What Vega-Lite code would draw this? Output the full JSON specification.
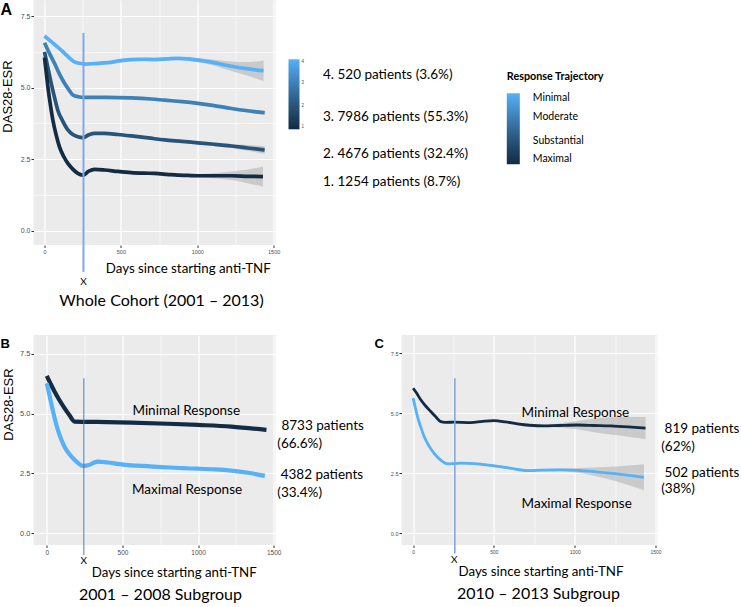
{
 "$schema": "https://vega.github.io/schema/vega-lite/v6.json",
 "background": "white",
 "padding": {"left": 0.5, "top": 0, "right": 0, "bottom": 0},
 "bounds": "flush",
 "columns": 2,
 "spacing": {"row": 90, "column": 126},
 "config": {
  "view": {"stroke": null},
  "axis": {"domain": false, "tickColor": "#333333", "tickSize": 2.5, "labelFont": "Liberation Sans", "labelColor": "#4D4D4D", "gridColor": "#FFFFFF", "titleColor": "#000000", "titleFontWeight": "normal", "labelFlush": false, "labelOverlap": false},
  "text": {"font": "Lato", "color": "#000000"}
 },
 "datasets": {
  "A": [
   {"traj":4,"day":0,"val":6.80,"lo":6.72,"hi":6.88},
   {"traj":4,"day":50,"val":6.58,"lo":6.52,"hi":6.64},
   {"traj":4,"day":109,"val":6.31,"lo":6.26,"hi":6.36},
   {"traj":4,"day":160,"val":6.05,"lo":6.00,"hi":6.10},
   {"traj":4,"day":196,"val":5.90,"lo":5.85,"hi":5.95},
   {"traj":4,"day":240,"val":5.84,"lo":5.79,"hi":5.89},
   {"traj":4,"day":262,"val":5.82,"lo":5.77,"hi":5.87},
   {"traj":4,"day":330,"val":5.84,"lo":5.79,"hi":5.89},
   {"traj":4,"day":415,"val":5.87,"lo":5.82,"hi":5.92},
   {"traj":4,"day":500,"val":5.94,"lo":5.89,"hi":5.99},
   {"traj":4,"day":568,"val":5.98,"lo":5.93,"hi":6.03},
   {"traj":4,"day":650,"val":5.99,"lo":5.94,"hi":6.04},
   {"traj":4,"day":720,"val":5.98,"lo":5.93,"hi":6.03},
   {"traj":4,"day":800,"val":6.00,"lo":5.95,"hi":6.05},
   {"traj":4,"day":873,"val":6.02,"lo":5.97,"hi":6.07},
   {"traj":4,"day":940,"val":6.00,"lo":5.94,"hi":6.06},
   {"traj":4,"day":1004,"val":5.96,"lo":5.89,"hi":6.03},
   {"traj":4,"day":1100,"val":5.88,"lo":5.78,"hi":5.98},
   {"traj":4,"day":1179,"val":5.79,"lo":5.65,"hi":5.93},
   {"traj":4,"day":1250,"val":5.72,"lo":5.54,"hi":5.90},
   {"traj":4,"day":1310,"val":5.67,"lo":5.45,"hi":5.89},
   {"traj":4,"day":1380,"val":5.62,"lo":5.33,"hi":5.91},
   {"traj":4,"day":1434,"val":5.59,"lo":5.23,"hi":5.95},
   {"traj":3,"day":0,"val":6.57,"lo":6.53,"hi":6.61},
   {"traj":3,"day":30,"val":6.22,"lo":6.18,"hi":6.26},
   {"traj":3,"day":66,"val":5.84,"lo":5.80,"hi":5.88},
   {"traj":3,"day":100,"val":5.45,"lo":5.41,"hi":5.49},
   {"traj":3,"day":131,"val":5.15,"lo":5.11,"hi":5.19},
   {"traj":3,"day":160,"val":4.92,"lo":4.88,"hi":4.96},
   {"traj":3,"day":186,"val":4.74,"lo":4.70,"hi":4.78},
   {"traj":3,"day":220,"val":4.68,"lo":4.64,"hi":4.72},
   {"traj":3,"day":262,"val":4.66,"lo":4.62,"hi":4.70},
   {"traj":3,"day":400,"val":4.66,"lo":4.62,"hi":4.70},
   {"traj":3,"day":568,"val":4.64,"lo":4.60,"hi":4.68},
   {"traj":3,"day":700,"val":4.60,"lo":4.56,"hi":4.64},
   {"traj":3,"day":786,"val":4.56,"lo":4.52,"hi":4.60},
   {"traj":3,"day":900,"val":4.51,"lo":4.47,"hi":4.55},
   {"traj":3,"day":1004,"val":4.45,"lo":4.41,"hi":4.49},
   {"traj":3,"day":1100,"val":4.38,"lo":4.34,"hi":4.42},
   {"traj":3,"day":1223,"val":4.27,"lo":4.22,"hi":4.32},
   {"traj":3,"day":1330,"val":4.19,"lo":4.13,"hi":4.25},
   {"traj":3,"day":1441,"val":4.12,"lo":4.04,"hi":4.20},
   {"traj":2,"day":0,"val":6.25,"lo":6.21,"hi":6.29},
   {"traj":2,"day":22,"val":5.70,"lo":5.66,"hi":5.74},
   {"traj":2,"day":44,"val":5.15,"lo":5.11,"hi":5.19},
   {"traj":2,"day":66,"val":4.65,"lo":4.61,"hi":4.69},
   {"traj":2,"day":87,"val":4.21,"lo":4.17,"hi":4.25},
   {"traj":2,"day":120,"val":3.82,"lo":3.78,"hi":3.86},
   {"traj":2,"day":153,"val":3.52,"lo":3.48,"hi":3.56},
   {"traj":2,"day":185,"val":3.36,"lo":3.32,"hi":3.40},
   {"traj":2,"day":218,"val":3.28,"lo":3.24,"hi":3.32},
   {"traj":2,"day":251,"val":3.25,"lo":3.21,"hi":3.29},
   {"traj":2,"day":290,"val":3.35,"lo":3.31,"hi":3.39},
   {"traj":2,"day":328,"val":3.40,"lo":3.36,"hi":3.44},
   {"traj":2,"day":393,"val":3.40,"lo":3.36,"hi":3.44},
   {"traj":2,"day":480,"val":3.36,"lo":3.32,"hi":3.40},
   {"traj":2,"day":568,"val":3.31,"lo":3.27,"hi":3.35},
   {"traj":2,"day":680,"val":3.24,"lo":3.20,"hi":3.28},
   {"traj":2,"day":786,"val":3.17,"lo":3.13,"hi":3.21},
   {"traj":2,"day":900,"val":3.12,"lo":3.08,"hi":3.16},
   {"traj":2,"day":1004,"val":3.07,"lo":3.03,"hi":3.11},
   {"traj":2,"day":1110,"val":3.02,"lo":2.97,"hi":3.07},
   {"traj":2,"day":1223,"val":2.96,"lo":2.89,"hi":3.03},
   {"traj":2,"day":1330,"val":2.89,"lo":2.79,"hi":2.99},
   {"traj":2,"day":1441,"val":2.82,"lo":2.69,"hi":2.95},
   {"traj":1,"day":0,"val":6.05,"lo":6.00,"hi":6.10},
   {"traj":1,"day":11,"val":5.55,"lo":5.50,"hi":5.60},
   {"traj":1,"day":22,"val":5.03,"lo":4.98,"hi":5.08},
   {"traj":1,"day":38,"val":4.42,"lo":4.37,"hi":4.47},
   {"traj":1,"day":55,"val":3.86,"lo":3.81,"hi":3.91},
   {"traj":1,"day":76,"val":3.35,"lo":3.30,"hi":3.40},
   {"traj":1,"day":98,"val":2.93,"lo":2.88,"hi":2.98},
   {"traj":1,"day":125,"val":2.60,"lo":2.55,"hi":2.65},
   {"traj":1,"day":153,"val":2.35,"lo":2.30,"hi":2.40},
   {"traj":1,"day":185,"val":2.15,"lo":2.10,"hi":2.20},
   {"traj":1,"day":218,"val":2.00,"lo":1.95,"hi":2.05},
   {"traj":1,"day":251,"val":1.94,"lo":1.89,"hi":1.99},
   {"traj":1,"day":290,"val":2.08,"lo":2.03,"hi":2.13},
   {"traj":1,"day":328,"val":2.14,"lo":2.09,"hi":2.19},
   {"traj":1,"day":393,"val":2.12,"lo":2.07,"hi":2.17},
   {"traj":1,"day":480,"val":2.07,"lo":2.02,"hi":2.12},
   {"traj":1,"day":568,"val":2.03,"lo":1.98,"hi":2.08},
   {"traj":1,"day":650,"val":2.01,"lo":1.96,"hi":2.06},
   {"traj":1,"day":720,"val":2.00,"lo":1.95,"hi":2.05},
   {"traj":1,"day":800,"val":1.97,"lo":1.92,"hi":2.02},
   {"traj":1,"day":873,"val":1.94,"lo":1.89,"hi":1.99},
   {"traj":1,"day":940,"val":1.93,"lo":1.88,"hi":1.98},
   {"traj":1,"day":1004,"val":1.92,"lo":1.86,"hi":1.98},
   {"traj":1,"day":1100,"val":1.92,"lo":1.83,"hi":2.01},
   {"traj":1,"day":1223,"val":1.92,"lo":1.77,"hi":2.07},
   {"traj":1,"day":1330,"val":1.90,"lo":1.66,"hi":2.14},
   {"traj":1,"day":1430,"val":1.89,"lo":1.54,"hi":2.24}
  ],
  "B": [
   {"resp":"Minimal","day":0,"val":6.58,"lo":6.55,"hi":6.61},
   {"resp":"Minimal","day":25,"val":6.25,"lo":6.22,"hi":6.28},
   {"resp":"Minimal","day":51,"val":5.93,"lo":5.90,"hi":5.96},
   {"resp":"Minimal","day":85,"val":5.55,"lo":5.52,"hi":5.58},
   {"resp":"Minimal","day":117,"val":5.23,"lo":5.20,"hi":5.26},
   {"resp":"Minimal","day":150,"val":4.93,"lo":4.90,"hi":4.96},
   {"resp":"Minimal","day":183,"val":4.67,"lo":4.64,"hi":4.70},
   {"resp":"Minimal","day":249,"val":4.66,"lo":4.63,"hi":4.69},
   {"resp":"Minimal","day":400,"val":4.65,"lo":4.62,"hi":4.68},
   {"resp":"Minimal","day":558,"val":4.63,"lo":4.60,"hi":4.66},
   {"resp":"Minimal","day":800,"val":4.58,"lo":4.55,"hi":4.61},
   {"resp":"Minimal","day":1000,"val":4.53,"lo":4.50,"hi":4.56},
   {"resp":"Minimal","day":1220,"val":4.46,"lo":4.42,"hi":4.50},
   {"resp":"Minimal","day":1452,"val":4.32,"lo":4.26,"hi":4.38},
   {"resp":"Maximal","day":0,"val":6.27,"lo":6.24,"hi":6.30},
   {"resp":"Maximal","day":15,"val":5.85,"lo":5.82,"hi":5.88},
   {"resp":"Maximal","day":29,"val":5.44,"lo":5.41,"hi":5.47},
   {"resp":"Maximal","day":50,"val":4.86,"lo":4.83,"hi":4.89},
   {"resp":"Maximal","day":73,"val":4.32,"lo":4.29,"hi":4.35},
   {"resp":"Maximal","day":95,"val":3.93,"lo":3.90,"hi":3.96},
   {"resp":"Maximal","day":117,"val":3.62,"lo":3.59,"hi":3.65},
   {"resp":"Maximal","day":150,"val":3.30,"lo":3.27,"hi":3.33},
   {"resp":"Maximal","day":183,"val":3.07,"lo":3.04,"hi":3.10},
   {"resp":"Maximal","day":210,"val":2.92,"lo":2.89,"hi":2.95},
   {"resp":"Maximal","day":238,"val":2.82,"lo":2.79,"hi":2.85},
   {"resp":"Maximal","day":260,"val":2.83,"lo":2.80,"hi":2.86},
   {"resp":"Maximal","day":282,"val":2.86,"lo":2.83,"hi":2.89},
   {"resp":"Maximal","day":310,"val":2.95,"lo":2.92,"hi":2.98},
   {"resp":"Maximal","day":337,"val":3.00,"lo":2.97,"hi":3.03},
   {"resp":"Maximal","day":370,"val":2.98,"lo":2.95,"hi":3.01},
   {"resp":"Maximal","day":404,"val":2.96,"lo":2.93,"hi":2.99},
   {"resp":"Maximal","day":480,"val":2.89,"lo":2.86,"hi":2.92},
   {"resp":"Maximal","day":558,"val":2.84,"lo":2.81,"hi":2.87},
   {"resp":"Maximal","day":680,"val":2.80,"lo":2.77,"hi":2.83},
   {"resp":"Maximal","day":779,"val":2.76,"lo":2.73,"hi":2.79},
   {"resp":"Maximal","day":900,"val":2.72,"lo":2.69,"hi":2.75},
   {"resp":"Maximal","day":1000,"val":2.70,"lo":2.67,"hi":2.73},
   {"resp":"Maximal","day":1110,"val":2.67,"lo":2.64,"hi":2.70},
   {"resp":"Maximal","day":1220,"val":2.62,"lo":2.58,"hi":2.66},
   {"resp":"Maximal","day":1330,"val":2.53,"lo":2.47,"hi":2.59},
   {"resp":"Maximal","day":1441,"val":2.40,"lo":2.31,"hi":2.49}
  ],
  "C": [
   {"resp":"Minimal","day":0,"val":6.04,"lo":5.99,"hi":6.09},
   {"resp":"Minimal","day":20,"val":5.85,"lo":5.80,"hi":5.90},
   {"resp":"Minimal","day":47,"val":5.56,"lo":5.51,"hi":5.61},
   {"resp":"Minimal","day":80,"val":5.28,"lo":5.23,"hi":5.33},
   {"resp":"Minimal","day":109,"val":5.07,"lo":5.02,"hi":5.12},
   {"resp":"Minimal","day":140,"val":4.85,"lo":4.80,"hi":4.90},
   {"resp":"Minimal","day":171,"val":4.65,"lo":4.60,"hi":4.70},
   {"resp":"Minimal","day":200,"val":4.62,"lo":4.57,"hi":4.67},
   {"resp":"Minimal","day":253,"val":4.63,"lo":4.58,"hi":4.68},
   {"resp":"Minimal","day":356,"val":4.61,"lo":4.56,"hi":4.66},
   {"resp":"Minimal","day":430,"val":4.66,"lo":4.61,"hi":4.71},
   {"resp":"Minimal","day":500,"val":4.69,"lo":4.64,"hi":4.74},
   {"resp":"Minimal","day":570,"val":4.64,"lo":4.59,"hi":4.69},
   {"resp":"Minimal","day":645,"val":4.56,"lo":4.51,"hi":4.61},
   {"resp":"Minimal","day":720,"val":4.50,"lo":4.45,"hi":4.55},
   {"resp":"Minimal","day":810,"val":4.47,"lo":4.42,"hi":4.52},
   {"resp":"Minimal","day":900,"val":4.49,"lo":4.41,"hi":4.57},
   {"resp":"Minimal","day":1016,"val":4.51,"lo":4.33,"hi":4.69},
   {"resp":"Minimal","day":1120,"val":4.49,"lo":4.21,"hi":4.77},
   {"resp":"Minimal","day":1222,"val":4.47,"lo":4.11,"hi":4.83},
   {"resp":"Minimal","day":1330,"val":4.43,"lo":4.02,"hi":4.84},
   {"resp":"Minimal","day":1438,"val":4.38,"lo":3.92,"hi":4.84},
   {"resp":"Maximal","day":0,"val":5.63,"lo":5.58,"hi":5.68},
   {"resp":"Maximal","day":13,"val":5.25,"lo":5.20,"hi":5.30},
   {"resp":"Maximal","day":27,"val":4.86,"lo":4.81,"hi":4.91},
   {"resp":"Maximal","day":47,"val":4.43,"lo":4.38,"hi":4.48},
   {"resp":"Maximal","day":68,"val":4.03,"lo":3.98,"hi":4.08},
   {"resp":"Maximal","day":100,"val":3.62,"lo":3.57,"hi":3.67},
   {"resp":"Maximal","day":130,"val":3.33,"lo":3.28,"hi":3.38},
   {"resp":"Maximal","day":170,"val":3.05,"lo":3.00,"hi":3.10},
   {"resp":"Maximal","day":212,"val":2.89,"lo":2.84,"hi":2.94},
   {"resp":"Maximal","day":250,"val":2.90,"lo":2.85,"hi":2.95},
   {"resp":"Maximal","day":295,"val":2.92,"lo":2.87,"hi":2.97},
   {"resp":"Maximal","day":350,"val":2.91,"lo":2.86,"hi":2.96},
   {"resp":"Maximal","day":398,"val":2.89,"lo":2.84,"hi":2.94},
   {"resp":"Maximal","day":500,"val":2.81,"lo":2.76,"hi":2.86},
   {"resp":"Maximal","day":600,"val":2.71,"lo":2.66,"hi":2.76},
   {"resp":"Maximal","day":707,"val":2.61,"lo":2.56,"hi":2.66},
   {"resp":"Maximal","day":800,"val":2.63,"lo":2.58,"hi":2.68},
   {"resp":"Maximal","day":913,"val":2.64,"lo":2.58,"hi":2.70},
   {"resp":"Maximal","day":1016,"val":2.62,"lo":2.52,"hi":2.72},
   {"resp":"Maximal","day":1119,"val":2.57,"lo":2.40,"hi":2.74},
   {"resp":"Maximal","day":1250,"val":2.48,"lo":2.18,"hi":2.78},
   {"resp":"Maximal","day":1428,"val":2.33,"lo":1.79,"hi":2.87}
  ],
  "Arule": [{"day":255,"top":6.91,"bottom":-1.44}],
  "Brule": [{"day":245,"top":6.48,"bottom":-0.91}],
  "Crule": [{"day":258,"top":6.46,"bottom":-0.84}],
  "Ax": [{"label":"X","day":255,"val":-1.91}],
  "Bx": [{"label":"X","day":245,"val":-1.27}],
  "Cx": [{"label":"X","day":254,"val":-1.26}],
  "Aletter": [{"label":"A","day":-288,"val":7.54}],
  "Bletter": [{"label":"B","day":-306,"val":7.75}],
  "Cletter": [{"label":"C","day":-239,"val":7.72}],
  "Atext": [
   {"label":"4. 520 patients (3.6%)","day":1823,"val":5.29},
   {"label":"3. 7986 patients (55.3%)","day":1823,"val":3.83},
   {"label":"2. 4676 patients (32.4%)","day":1823,"val":2.53},
   {"label":"1. 1254 patients (8.7%)","day":1823,"val":1.57}
  ],
  "Legend": [{"traj":1},{"traj":2},{"traj":3},{"traj":4}],
  "Bcenter": [
   {"label":"Minimal Response","day":922,"val":4.95},
   {"label":"Maximal Response","day":927,"val":1.645}
  ],
  "Bright": [
   {"label":"8733 patients","day":1551,"val":4.32},
   {"label":"(66.6%)","day":1524,"val":3.58},
   {"label":"4382 patients","day":1546,"val":2.26},
   {"label":"(33.4%)","day":1524,"val":1.53}
  ],
  "Ccenter": [
   {"label":"Minimal Response","day":1004,"val":4.83},
   {"label":"Maximal Response","day":1012,"val":1.07}
  ],
  "Cright": [
   {"label":"819 patients","day":1556,"val":4.17},
   {"label":"(62%)","day":1535,"val":3.44},
   {"label":"502 patients","day":1556,"val":2.36},
   {"label":"(38%)","day":1535,"val":1.67}
  ]
 },
 "concat": [
  {
   "width": 242, "height": 245,
   "view": {"fill": "#EBEBEB", "stroke": null},
   "title": {"text": "Whole Cohort (2001 – 2013)", "orient": "bottom", "anchor": "middle", "frame": "group", "font": "Lato", "fontSize": 16, "fontWeight": "normal", "color": "#000000", "offset": 6, "dx": 7},
   "layer": [
    {
     "data": {"name": "A"},
     "mark": {"type": "area", "color": "#999999", "opacity": 0.4, "interpolate": "monotone"},
     "encoding": {
      "x": {"field": "day", "type": "quantitative", "scale": {"domain": [-72, 1512], "nice": false, "zero": false},
       "axis": {"values": [0,250,500,750,1000,1250,1500], "format": "d", "labelExpr": "datum.value % 500 === 0 ? datum.label : ''",
        "tickOpacity": {"condition": {"test": "datum.value % 500 === 0", "value": 1}, "value": 0},
        "gridWidth": {"condition": {"test": "datum.value % 500 === 0", "value": 1.2}, "value": 0.6},
        "labelFontSize": 5.5, "labelPadding": 1.5,
        "title": "Days since starting anti-TNF", "titleFont": "Lato", "titleFontSize": 13.3, "titleX": 154.3, "titleY": 27, "titleAlign": "center", "titleBaseline": "alphabetic"}},
      "y": {"field": "lo", "type": "quantitative", "scale": {"domain": [-0.5, 8.06], "nice": false, "zero": false},
       "axis": {"values": [0,1.25,2.5,3.75,5,6.25,7.5], "format": ".1f", "labelExpr": "datum.value % 2.5 === 0 ? datum.label : ''",
        "tickOpacity": {"condition": {"test": "datum.value % 2.5 === 0", "value": 1}, "value": 0},
        "gridWidth": {"condition": {"test": "datum.value % 2.5 === 0", "value": 1.2}, "value": 0.6},
        "labelFontSize": 7, "labelPadding": 1,
        "title": "DAS28-ESR", "titleFont": "Liberation Sans", "titleFontSize": 13, "titleX": -22.4, "titleY": 96, "titleAlign": "center", "titleBaseline": "alphabetic", "titleAngle": 270}},
      "y2": {"field": "hi"},
      "detail": {"field": "traj"}
     }
    },
    {
     "data": {"name": "A"},
     "mark": {"type": "line", "strokeWidth": 3.7, "interpolate": "monotone"},
     "encoding": {
      "x": {"field": "day", "type": "quantitative"},
      "y": {"field": "val", "type": "quantitative"},
      "detail": {"field": "traj"},
      "stroke": {"field": "traj", "type": "quantitative", "scale": {"type": "linear", "domain": [1, 4], "range": ["#132B43", "#56B1F7"], "interpolate": "lab"},
       "legend": {"orient": "none", "legendX": 255, "legendY": 59.3, "direction": "vertical", "title": null, "gradientLength": 70, "gradientThickness": 11, "gradientStrokeWidth": 0, "values": [1,2,3,4], "format": "d", "labelFont": "Liberation Sans", "labelFontSize": 4.5, "labelColor": "#4D4D4D", "labelOffset": 2, "padding": 0}}
     }
    },
    {
     "data": {"name": "Legend"},
     "mark": {"type": "point", "filled": true, "opacity": 0, "size": 0},
     "encoding": {
      "fill": {"field": "traj", "type": "quantitative", "scale": {"type": "linear", "range": ["#132B43", "#56B1F7"], "interpolate": "lab", "nice": false, "zero": false},
       "legend": {"orient": "none", "legendX": 473.3, "legendY": 71, "direction": "vertical", "title": "Response Trajectory", "titleFont": "Lato", "titleFontSize": 10.8, "titleFontWeight": "bold", "titleColor": "#000000", "titlePadding": 11.5, "gradientLength": 71, "gradientThickness": 13, "gradientStrokeWidth": 0, "values": [1,2,3,4], "labelExpr": "datum.value == 4 ? 'Minimal' : datum.value == 3 ? 'Moderate' : datum.value == 2 ? 'Substantial' : 'Maximal'", "labelFont": "Lato", "labelFontSize": 10.5, "labelColor": "#000000", "labelOffset": 13, "padding": 0}}
     }
    },
    {
     "data": {"name": "Arule"},
     "mark": {"type": "rule", "color": "#82A7E2", "strokeWidth": 2, "clip": false},
     "encoding": {"x": {"field": "day", "type": "quantitative"}, "y": {"field": "top", "type": "quantitative"}, "y2": {"field": "bottom"}}
    },
    {
     "data": {"name": "Ax"},
     "mark": {"type": "text", "fontSize": 10, "align": "center", "baseline": "alphabetic", "clip": false},
     "encoding": {"x": {"field": "day", "type": "quantitative"}, "y": {"field": "val", "type": "quantitative"}, "text": {"field": "label"}}
    },
    {
     "data": {"name": "Aletter"},
     "mark": {"type": "text", "font": "Liberation Sans", "fontWeight": "bold", "fontSize": 16, "align": "left", "baseline": "alphabetic", "clip": false},
     "encoding": {"x": {"field": "day", "type": "quantitative"}, "y": {"field": "val", "type": "quantitative"}, "text": {"field": "label"}}
    },
    {
     "data": {"name": "Atext"},
     "mark": {"type": "text", "fontSize": 13.5, "align": "left", "baseline": "alphabetic", "clip": false},
     "encoding": {"x": {"field": "day", "type": "quantitative"}, "y": {"field": "val", "type": "quantitative"}, "text": {"field": "label"}}
    }
   ]
  },
  {
   "width": 1, "height": 1,
   "data": {"values": [{"a": 1}]},
   "mark": {"type": "point", "opacity": 0, "size": 0},
   "encoding": {}
  },
  {
   "width": 242, "height": 210,
   "view": {"fill": "#EBEBEB", "stroke": null},
   "title": {"text": "2001 – 2008 Subgroup", "orient": "bottom", "anchor": "middle", "frame": "group", "font": "Lato", "fontSize": 16, "fontWeight": "normal", "color": "#000000", "offset": 9, "dx": 6},
   "layer": [
    {
     "data": {"name": "B"},
     "mark": {"type": "area", "color": "#999999", "opacity": 0.4, "interpolate": "monotone"},
     "encoding": {
      "x": {"field": "day", "type": "quantitative", "scale": {"domain": [-88, 1512], "nice": false, "zero": false},
       "axis": {"values": [0,250,500,750,1000,1250,1500], "format": "d", "labelExpr": "datum.value % 500 === 0 ? datum.label : ''",
        "tickOpacity": {"condition": {"test": "datum.value % 500 === 0", "value": 1}, "value": 0},
        "gridWidth": {"condition": {"test": "datum.value % 500 === 0", "value": 1.2}, "value": 0.6},
        "labelFontSize": 6.5, "labelPadding": 1.5,
        "title": "Days since starting anti-TNF", "titleFont": "Lato", "titleFontSize": 13.3, "titleX": 140.3, "titleY": 31, "titleAlign": "center", "titleBaseline": "alphabetic"}},
      "y": {"field": "lo", "type": "quantitative", "scale": {"domain": [-0.49, 8.29], "nice": false, "zero": false},
       "axis": {"values": [0,1.25,2.5,3.75,5,6.25,7.5], "format": ".1f", "labelExpr": "datum.value % 2.5 === 0 ? datum.label : ''",
        "tickOpacity": {"condition": {"test": "datum.value % 2.5 === 0", "value": 1}, "value": 0},
        "gridWidth": {"condition": {"test": "datum.value % 2.5 === 0", "value": 1.2}, "value": 0.6},
        "labelFontSize": 7.5, "labelPadding": 1,
        "title": "DAS28-ESR", "titleFont": "Liberation Sans", "titleFontSize": 13, "titleX": -20.7, "titleY": 69, "titleAlign": "center", "titleBaseline": "alphabetic", "titleAngle": 270}},
      "y2": {"field": "hi"},
      "detail": {"field": "resp"}
     }
    },
    {
     "data": {"name": "B"},
     "mark": {"type": "line", "strokeWidth": 4.2, "interpolate": "monotone"},
     "encoding": {
      "x": {"field": "day", "type": "quantitative"},
      "y": {"field": "val", "type": "quantitative"},
      "stroke": {"field": "resp", "type": "nominal", "scale": {"domain": ["Minimal", "Maximal"], "range": ["#132B43", "#56B1F7"]}, "legend": null}
     }
    },
    {
     "data": {"name": "Brule"},
     "mark": {"type": "rule", "color": "#4E74C9", "strokeWidth": 1, "clip": false},
     "encoding": {"x": {"field": "day", "type": "quantitative"}, "y": {"field": "top", "type": "quantitative"}, "y2": {"field": "bottom"}}
    },
    {
     "data": {"name": "Bx"},
     "mark": {"type": "text", "fontSize": 10, "align": "center", "baseline": "alphabetic", "clip": false},
     "encoding": {"x": {"field": "day", "type": "quantitative"}, "y": {"field": "val", "type": "quantitative"}, "text": {"field": "label"}}
    },
    {
     "data": {"name": "Bletter"},
     "mark": {"type": "text", "font": "Liberation Sans", "fontWeight": "bold", "fontSize": 13, "align": "left", "baseline": "alphabetic", "clip": false},
     "encoding": {"x": {"field": "day", "type": "quantitative"}, "y": {"field": "val", "type": "quantitative"}, "text": {"field": "label"}}
    },
    {
     "data": {"name": "Bcenter"},
     "mark": {"type": "text", "fontSize": 13.5, "align": "center", "baseline": "alphabetic", "clip": false},
     "encoding": {"x": {"field": "day", "type": "quantitative"}, "y": {"field": "val", "type": "quantitative"}, "text": {"field": "label"}}
    },
    {
     "data": {"name": "Bright"},
     "mark": {"type": "text", "fontSize": 13.5, "align": "left", "baseline": "alphabetic", "clip": false},
     "encoding": {"x": {"field": "day", "type": "quantitative"}, "y": {"field": "val", "type": "quantitative"}, "text": {"field": "label"}}
    }
   ]
  },
  {
   "width": 256, "height": 210,
   "view": {"fill": "#EBEBEB", "stroke": null},
   "title": {"text": "2010 – 2013 Subgroup", "orient": "bottom", "anchor": "middle", "frame": "group", "font": "Lato", "fontSize": 16, "fontWeight": "normal", "color": "#000000", "offset": 9, "dx": 9},
   "layer": [
    {
     "data": {"name": "C"},
     "mark": {"type": "area", "color": "#999999", "opacity": 0.4, "interpolate": "monotone"},
     "encoding": {
      "x": {"field": "day", "type": "quantitative", "scale": {"domain": [-72, 1512], "nice": false, "zero": false},
       "axis": {"values": [0,250,500,750,1000,1250,1500], "format": "d", "labelExpr": "datum.value % 500 === 0 ? datum.label : ''",
        "tickOpacity": {"condition": {"test": "datum.value % 500 === 0", "value": 1}, "value": 0},
        "gridWidth": {"condition": {"test": "datum.value % 500 === 0", "value": 1.2}, "value": 0.6},
        "labelFontSize": 5, "labelPadding": 1.5,
        "title": "Days since starting anti-TNF", "titleFont": "Lato", "titleFontSize": 13.3, "titleX": 139, "titleY": 30, "titleAlign": "center", "titleBaseline": "alphabetic"}},
      "y": {"field": "lo", "type": "quantitative", "scale": {"domain": [-0.49, 8.26], "nice": false, "zero": false},
       "axis": {"values": [0,1.25,2.5,3.75,5,6.25,7.5], "format": ".1f", "labelExpr": "datum.value % 2.5 === 0 ? datum.label : ''",
        "tickOpacity": {"condition": {"test": "datum.value % 2.5 === 0", "value": 1}, "value": 0},
        "gridWidth": {"condition": {"test": "datum.value % 2.5 === 0", "value": 1.2}, "value": 0.6},
        "labelFontSize": 5.5, "labelPadding": 1, "title": null}},
      "y2": {"field": "hi"},
      "detail": {"field": "resp"}
     }
    },
    {
     "data": {"name": "C"},
     "mark": {"type": "line", "strokeWidth": 2.8, "interpolate": "monotone"},
     "encoding": {
      "x": {"field": "day", "type": "quantitative"},
      "y": {"field": "val", "type": "quantitative"},
      "stroke": {"field": "resp", "type": "nominal", "scale": {"domain": ["Minimal", "Maximal"], "range": ["#132B43", "#56B1F7"]}, "legend": null}
     }
    },
    {
     "data": {"name": "Crule"},
     "mark": {"type": "rule", "color": "#86A6DC", "strokeWidth": 1.6, "clip": false},
     "encoding": {"x": {"field": "day", "type": "quantitative"}, "y": {"field": "top", "type": "quantitative"}, "y2": {"field": "bottom"}}
    },
    {
     "data": {"name": "Cx"},
     "mark": {"type": "text", "fontSize": 10, "align": "center", "baseline": "alphabetic", "clip": false},
     "encoding": {"x": {"field": "day", "type": "quantitative"}, "y": {"field": "val", "type": "quantitative"}, "text": {"field": "label"}}
    },
    {
     "data": {"name": "Cletter"},
     "mark": {"type": "text", "font": "Liberation Sans", "fontWeight": "bold", "fontSize": 13, "align": "left", "baseline": "alphabetic", "clip": false},
     "encoding": {"x": {"field": "day", "type": "quantitative"}, "y": {"field": "val", "type": "quantitative"}, "text": {"field": "label"}}
    },
    {
     "data": {"name": "Ccenter"},
     "mark": {"type": "text", "fontSize": 13.5, "align": "center", "baseline": "alphabetic", "clip": false},
     "encoding": {"x": {"field": "day", "type": "quantitative"}, "y": {"field": "val", "type": "quantitative"}, "text": {"field": "label"}}
    },
    {
     "data": {"name": "Cright"},
     "mark": {"type": "text", "fontSize": 13.5, "align": "left", "baseline": "alphabetic", "clip": false},
     "encoding": {"x": {"field": "day", "type": "quantitative"}, "y": {"field": "val", "type": "quantitative"}, "text": {"field": "label"}}
    }
   ]
  }
 ],
 "resolve": {
  "scale": {"x": "independent", "y": "independent", "stroke": "independent", "fill": "independent"},
  "legend": {"stroke": "independent", "fill": "independent"}
 }
}
